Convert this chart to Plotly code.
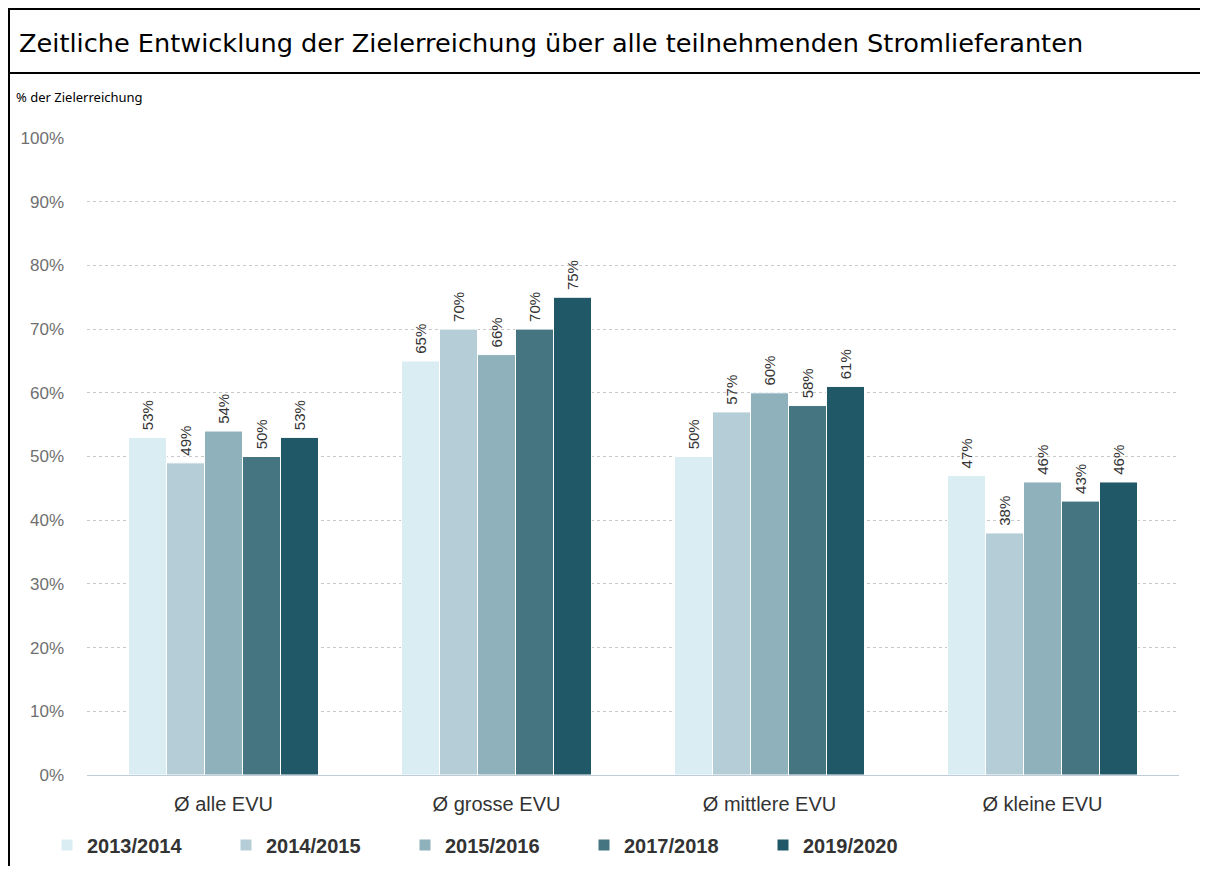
import plotly.graph_objects as go

categories = ["Ø alle EVU", "Ø grosse EVU", "Ø mittlere EVU", "Ø kleine EVU"]
series_names = ["2013/2014", "2014/2015", "2015/2016", "2017/2018", "2019/2020"]
v_2013_2014 = [53, 65, 50, 47]
v_2014_2015 = [49, 70, 57, 38]
v_2015_2016 = [54, 66, 60, 46]
v_2017_2018 = [50, 70, 58, 43]
v_2019_2020 = [53, 75, 61, 46]
series_values = [v_2013_2014, v_2014_2015, v_2015_2016, v_2017_2018, v_2019_2020]
colors = ["#daedf3", "#b5cdd6", "#8fb1bb", "#467582", "#215867"]

title_text = "Zeitliche Entwicklung der Zielerreichung über alle teilnehmenden Stromlieferanten"
yaxis_label = "% der Zielerreichung"

# page has an 8px body margin; figure coordinates = page coordinates - 8
OFF = 8
W, H = 1192, 858
ML, MT = 79, 130
MR = W - 1171
MB = H - 767
PW = W - ML - MR
PH = H - MT - MB


def px_x(p):
    return (p - OFF - ML) / PW


def px_y(p):
    return (H - MB - (p - OFF)) / PH


def cx(p):
    return (p - OFF) / W


def cy(p):
    return 1 - (p - OFF) / H


fig = go.Figure()
for name, vals, col in zip(series_names, series_values, colors):
    fig.add_trace(go.Bar(
        name=name, x=categories, y=vals,
        marker=dict(color=col, line=dict(color="white", width=1)),
        text=[f"\u00a0{v}%" for v in vals], textposition="outside", textangle=-90,
        textfont=dict(family="Liberation Sans, Arial", size=15, color="#333333"),
        cliponaxis=False,
    ))

fig.update_layout(
    width=W, height=H,
    margin=dict(l=ML, r=MR, t=MT, b=MB, autoexpand=False),
    paper_bgcolor="white", plot_bgcolor="white",
    barmode="group", bargap=0.304, bargroupgap=0,
    showlegend=True,
    legend=dict(
        orientation="h", xref="container", yref="container",
        x=cx(47), xanchor="left", y=cy(845), yanchor="middle",
        font=dict(family="Liberation Sans, Arial", size=20, color="#333333", weight="bold"),
        entrywidth=134, entrywidthmode="pixels", traceorder="normal",
        bgcolor="rgba(0,0,0,0)", borderwidth=0,
    ),
    xaxis=dict(
        showgrid=False, showline=True, linecolor="#bfcdd8", linewidth=1,
        tickfont=dict(family="Liberation Sans, Arial", size=20, color="#333333"),
        ticks="", ticklabelstandoff=11, fixedrange=True, automargin=False,
    ),
    yaxis=dict(
        range=[0, 100], dtick=10, ticksuffix="%",
        showgrid=True, gridcolor="#c8c8c8", griddash="dot", gridwidth=1,
        zeroline=False, showline=False,
        tickfont=dict(family="Liberation Sans, Arial", size=17, color="#6f6f6f"),
        ticks="", ticklabelstandoff=22, automargin=False,
    ),
    annotations=[
        dict(text=title_text, xref="paper", yref="paper", x=px_x(17), y=px_y(43),
             xanchor="left", yanchor="middle", showarrow=False,
             font=dict(family="DejaVu Sans", size=25.6, color="#000000")),
        dict(text=yaxis_label, xref="paper", yref="paper", x=px_x(14), y=px_y(97),
             xanchor="left", yanchor="middle", showarrow=False,
             font=dict(family="Noto Sans", size=13, color="#000000")),
    ],
    shapes=[
        dict(type="line", xref="paper", yref="paper", x0=px_x(9), x1=px_x(9), y0=px_y(8), y1=px_y(H + OFF),
             line=dict(color="black", width=2)),
        dict(type="line", xref="paper", yref="paper", x0=px_x(8), x1=px_x(W + OFF), y0=px_y(9), y1=px_y(9),
             line=dict(color="black", width=2)),
        dict(type="line", xref="paper", yref="paper", x0=px_x(8), x1=px_x(W + OFF), y0=px_y(73), y1=px_y(73),
             line=dict(color="black", width=2)),
    ],
)

fig.write_html("out.html")
